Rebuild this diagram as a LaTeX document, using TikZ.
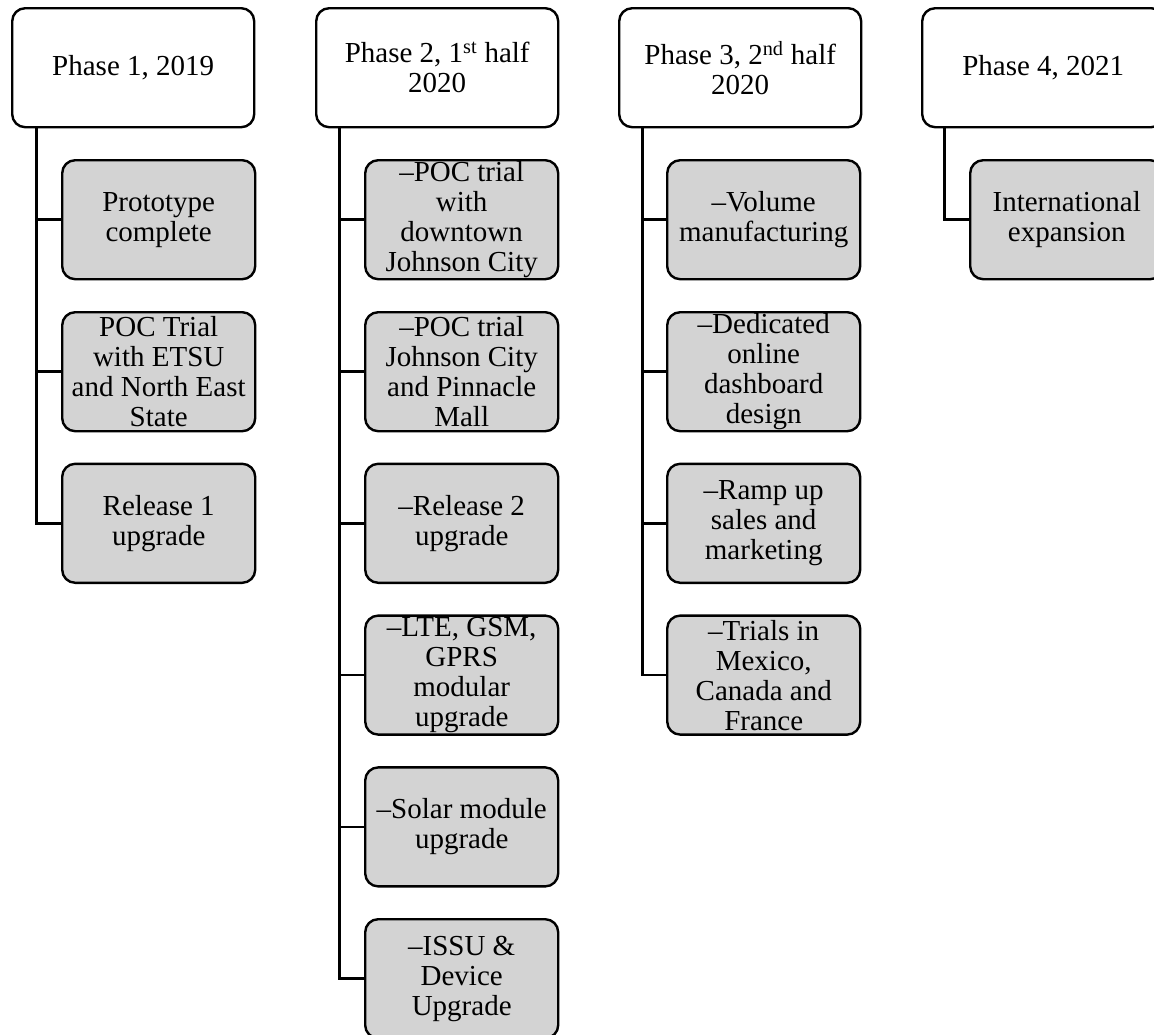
\documentclass[tikz,border=0pt]{standalone}
\usepackage{fontspec}
\setmainfont{Liberation Serif}
\definecolor{itemgray}{HTML}{D3D3D3}
\begin{document}
\begin{tikzpicture}[x=1pt,y=-1pt,
  box/.style={draw=black, line width=2.4pt, rounded corners=13pt, inner sep=0pt,
    align=center, anchor=north west, font=\fontsize{29}{30}\selectfont},
  head/.style={box, fill=white, minimum width=242pt, minimum height=119pt},
  item/.style={box, fill=itemgray, minimum width=193pt, minimum height=119pt},
  conn/.style={draw=black, line width=2.6pt}]
\useasboundingbox (0,0) rectangle (1154,1034);
% headers
\node[head] (h1) at (11,7)  {Phase 1, 2019};
\node[head] (h2) at (315,7) {Phase 2, 1\textsuperscript{st} half\\2020};
\node[head] (h3) at (618,7) {Phase 3, 2\textsuperscript{nd} half\\2020};
\node[head] (h4) at (921,7) {Phase 4, 2021};
% phase 1 items
\node[item] (a1) at (61,159)   {Prototype\\complete};
\node[item] (a2) at (61,311)   {POC Trial\\with ETSU\\and North East\\State};
\node[item] (a3) at (61,462.6) {Release 1\\upgrade};
% phase 2 items
\node[item] (b1) at (364,159)   {–POC trial\\with\\downtown\\Johnson City};
\node[item] (b2) at (364,311)   {–POC trial\\Johnson City\\and Pinnacle\\Mall};
\node[item] (b3) at (364,462.6) {–Release 2\\upgrade};
\node[item] (b4) at (364,614.4) {–LTE, GSM,\\GPRS\\modular\\upgrade};
\node[item] (b5) at (364,766.2) {–Solar module\\upgrade};
\node[item] (b6) at (364,918)   {–ISSU \&\\Device\\Upgrade};
% phase 3 items
\node[item] (p1) at (666,159)   {–Volume\\manufacturing};
\node[item] (p2) at (666,311)   {–Dedicated\\online\\dashboard\\design};
\node[item] (p3) at (666,462.6) {–Ramp up\\sales and\\marketing};
\node[item] (p4) at (666,614.4) {–Trials in\\Mexico,\\Canada and\\France};
% phase 4 item
\node[item] (q1) at (969,159)   {International\\expansion};
% connectors
\foreach \c in {a1,a2,a3}
  \draw[conn] ([xshift=25.5pt]h1.south west) |- (\c.west);
\foreach \c in {b1,b2,b3,b4,b5,b6}
  \draw[conn] ([xshift=24.5pt]h2.south west) |- (\c.west);
\foreach \c in {p1,p2,p3,p4}
  \draw[conn] ([xshift=24.5pt]h3.south west) |- (\c.west);
\draw[conn] ([xshift=23.5pt]h4.south west) |- (q1.west);
\end{tikzpicture}
\end{document}
